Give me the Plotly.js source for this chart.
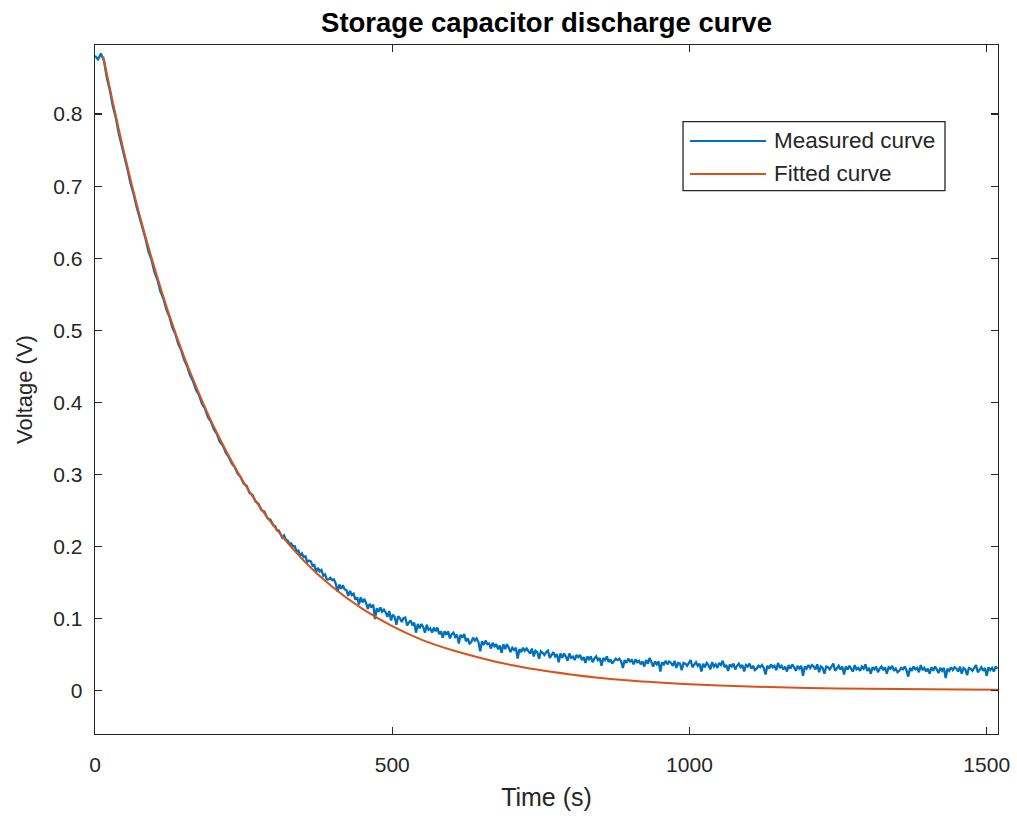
<!DOCTYPE html>
<html>
<head>
<meta charset="utf-8">
<script src="https://cdn.plot.ly/plotly-3.0.1.min.js"></script>
<style>html,body{margin:0;padding:0;background:#fff;}#chart{width:1017px;height:819px;}</style>
</head>
<body>
<div id="chart"></div>
<script>
// Measured record, part 1: t = 0 ... 300 s, one value every 5 s (V)
const EARLY_START_S = 0;
const EARLY_STEP_S = 5;
const measuredEarly = [
  0.881, 0.876, 0.884, 0.874, 0.850, 0.833, 0.811, 0.795, 0.773, 0.757,
  0.738, 0.722, 0.703, 0.689, 0.671, 0.657, 0.640, 0.627, 0.609, 0.598,
  0.581, 0.570, 0.554, 0.544, 0.529, 0.519, 0.504, 0.495, 0.481, 0.472,
  0.459, 0.450, 0.437, 0.429, 0.417, 0.410, 0.398, 0.391, 0.379, 0.373,
  0.362, 0.356, 0.345, 0.340, 0.330, 0.324, 0.315, 0.310, 0.301, 0.296,
  0.287, 0.284, 0.274, 0.271, 0.262, 0.259, 0.250, 0.248, 0.239, 0.237,
  0.229
];

// Measured record, part 2: t = 303 ... 1518 s, one value every 3 s (V)
const LATE_START_S = 303;
const LATE_STEP_S = 3;
const measuredLate = [
  0.228, 0.222, 0.222, 0.217, 0.212, 0.215, 0.209, 0.208, 0.203, 0.204,
  0.200, 0.200, 0.193, 0.194, 0.187, 0.190, 0.185, 0.186, 0.178, 0.180,
  0.179, 0.173, 0.174, 0.164, 0.170, 0.165, 0.167, 0.159, 0.161, 0.154,
  0.154, 0.156, 0.153, 0.154, 0.148, 0.137, 0.147, 0.141, 0.146, 0.140,
  0.139, 0.131, 0.138, 0.132, 0.134, 0.126, 0.129, 0.119, 0.129, 0.122,
  0.127, 0.121, 0.113, 0.120, 0.115, 0.119, 0.099, 0.114, 0.109, 0.115,
  0.109, 0.112, 0.108, 0.102, 0.110, 0.097, 0.105, 0.102, 0.091, 0.103,
  0.100, 0.095, 0.100, 0.101, 0.090, 0.094, 0.097, 0.090, 0.094, 0.080,
  0.092, 0.086, 0.092, 0.088, 0.080, 0.091, 0.084, 0.086, 0.080, 0.087,
  0.082, 0.087, 0.078, 0.082, 0.073, 0.082, 0.077, 0.082, 0.072, 0.078,
  0.080, 0.074, 0.077, 0.065, 0.077, 0.073, 0.078, 0.068, 0.072, 0.065,
  0.067, 0.073, 0.069, 0.072, 0.067, 0.054, 0.068, 0.063, 0.069, 0.064,
  0.065, 0.058, 0.066, 0.061, 0.064, 0.057, 0.062, 0.052, 0.064, 0.057,
  0.064, 0.059, 0.053, 0.059, 0.056, 0.059, 0.044, 0.057, 0.053, 0.059,
  0.055, 0.058, 0.055, 0.051, 0.058, 0.047, 0.055, 0.053, 0.044, 0.054,
  0.052, 0.049, 0.053, 0.055, 0.045, 0.050, 0.053, 0.047, 0.050, 0.039,
  0.051, 0.045, 0.051, 0.047, 0.041, 0.051, 0.045, 0.047, 0.042, 0.049,
  0.046, 0.049, 0.042, 0.046, 0.038, 0.047, 0.043, 0.047, 0.039, 0.044,
  0.047, 0.042, 0.045, 0.034, 0.045, 0.042, 0.047, 0.039, 0.043, 0.037,
  0.040, 0.044, 0.042, 0.044, 0.040, 0.031, 0.042, 0.038, 0.044, 0.040,
  0.042, 0.036, 0.043, 0.039, 0.041, 0.036, 0.040, 0.033, 0.042, 0.037,
  0.045, 0.039, 0.033, 0.040, 0.036, 0.040, 0.026, 0.039, 0.036, 0.041,
  0.036, 0.040, 0.038, 0.034, 0.041, 0.031, 0.038, 0.037, 0.028, 0.038,
  0.037, 0.034, 0.038, 0.042, 0.032, 0.036, 0.039, 0.034, 0.037, 0.026,
  0.037, 0.032, 0.038, 0.035, 0.029, 0.039, 0.033, 0.036, 0.031, 0.038,
  0.035, 0.041, 0.032, 0.035, 0.027, 0.036, 0.033, 0.037, 0.029, 0.034,
  0.037, 0.032, 0.035, 0.026, 0.035, 0.033, 0.037, 0.030, 0.034, 0.028,
  0.030, 0.034, 0.032, 0.035, 0.031, 0.022, 0.034, 0.030, 0.036, 0.032,
  0.034, 0.028, 0.038, 0.031, 0.034, 0.029, 0.033, 0.026, 0.035, 0.030,
  0.036, 0.032, 0.027, 0.034, 0.030, 0.034, 0.020, 0.033, 0.030, 0.035,
  0.031, 0.035, 0.033, 0.029, 0.036, 0.025, 0.033, 0.031, 0.023, 0.033,
  0.032, 0.029, 0.033, 0.037, 0.027, 0.031, 0.034, 0.029, 0.033, 0.022,
  0.033, 0.029, 0.034, 0.030, 0.026, 0.035, 0.029, 0.031, 0.027, 0.033,
  0.030, 0.036, 0.027, 0.031, 0.023, 0.032, 0.029, 0.033, 0.025, 0.030,
  0.033, 0.028, 0.032, 0.023, 0.032, 0.030, 0.034, 0.027, 0.030, 0.025,
  0.027, 0.031, 0.029, 0.033, 0.028, 0.019, 0.031, 0.027, 0.033, 0.029,
  0.031, 0.025, 0.035, 0.028, 0.031, 0.026, 0.030, 0.023, 0.032, 0.027,
  0.033, 0.029, 0.024, 0.031, 0.027, 0.031, 0.017, 0.030, 0.027, 0.032,
  0.028, 0.032, 0.030, 0.026, 0.033, 0.023, 0.031, 0.029, 0.021, 0.031,
  0.030, 0.027, 0.031, 0.035, 0.025, 0.029, 0.032, 0.027, 0.031, 0.020,
  0.032, 0.028, 0.031, 0.026, 0.033, 0.030
];

// Fitted exponential curve, read at these times (s) and voltages (V)
const fittedTime = [14, 25, 50, 75, 100, 125, 150, 175, 200, 250, 300, 350, 400, 450, 500,
                    550, 600, 700, 800, 900, 1000, 1100, 1200, 1300, 1400, 1519];
const fittedVoltage = [0.880, 0.836, 0.743, 0.660, 0.587, 0.521, 0.463, 0.412, 0.366, 0.289,
                       0.229, 0.181, 0.143, 0.113, 0.089, 0.070, 0.056, 0.035, 0.022, 0.0135,
                       0.0084, 0.0052, 0.0033, 0.0021, 0.0014, 0.0008];

// Axis ticks
const xTickValues = [0, 500, 1000, 1500];
const yTickValues = [0, 0.1, 0.2, 0.3, 0.4, 0.5, 0.6, 0.7, 0.8];
const yTickLabels = ['0', '0.1', '0.2', '0.3', '0.4', '0.5', '0.6', '0.7', '0.8'];

const seriesNames = ['Measured curve', 'Fitted curve'];
const seriesColors = ['#0072BD', '#D95319'];

const measuredTime = measuredEarly.map((_, i) => EARLY_START_S + i * EARLY_STEP_S)
  .concat(measuredLate.map((_, i) => LATE_START_S + i * LATE_STEP_S));
const measuredVoltage = measuredEarly.concat(measuredLate);

const FONT = 'Liberation Sans, Arial, Helvetica, sans-serif';
const AXIS_COLOR = '#262626';

const traces = [
  {
    x: measuredTime, y: measuredVoltage, name: seriesNames[0],
    type: 'scatter', mode: 'lines', showlegend: false,
    line: {color: seriesColors[0], width: 2.3}
  },
  {
    x: fittedTime, y: fittedVoltage, name: seriesNames[1],
    type: 'scatter', mode: 'lines', showlegend: false,
    line: {color: seriesColors[1], width: 2, shape: 'spline', smoothing: 0.8}
  }
];

// Legend box drawn in paper coordinates (MATLAB-style, long line samples)
const LEG = {x0: 0.6512, x1: 0.9413, y0: 0.7885, y1: 0.8887,
             lineX0: 0.6589, lineX1: 0.7431, textX: 0.7497, rows: [0.8607, 0.8128]};

const shapes = [
  {type: 'rect', xref: 'paper', yref: 'paper', x0: LEG.x0, x1: LEG.x1, y0: LEG.y0, y1: LEG.y1,
   line: {color: AXIS_COLOR, width: 1.3}, fillcolor: '#ffffff', layer: 'above'}
].concat(seriesNames.map((n, i) => ({
  type: 'line', xref: 'paper', yref: 'paper', x0: LEG.lineX0, x1: LEG.lineX1,
  y0: LEG.rows[i], y1: LEG.rows[i], line: {color: seriesColors[i], width: 1.8}, layer: 'above'
})));

const annotations = seriesNames.map((n, i) => ({
  text: n, xref: 'paper', yref: 'paper', x: LEG.textX, y: LEG.rows[i],
  xanchor: 'left', yanchor: 'middle', showarrow: false,
  font: {family: FONT, size: 22.5, color: AXIS_COLOR}
}));

const axisCommon = {
  showgrid: false, zeroline: false,
  showline: true, linecolor: AXIS_COLOR, linewidth: 1.3,
  mirror: 'ticks', ticks: 'inside', ticklen: 7, tickwidth: 1.3, tickcolor: AXIS_COLOR,
  tickfont: {family: FONT, size: 21, color: AXIS_COLOR}
};

const layout = {
  width: 1017, height: 819,
  margin: {l: 95, r: 19, t: 45, b: 85},
  paper_bgcolor: '#ffffff', plot_bgcolor: '#ffffff',
  font: {family: FONT, color: AXIS_COLOR},
  showlegend: false,
  title: {
    text: '<b>Storage capacitor discharge curve</b>',
    font: {family: FONT, size: 27.5, color: '#000000'},
    x: 0.5, xref: 'paper', xanchor: 'center',
    y: 1 - 22 / 819, yref: 'container', yanchor: 'middle'
  },
  xaxis: Object.assign({}, axisCommon, {
    range: [0, 1519],
    tickvals: xTickValues,
    ticklabelstandoff: 11,
    title: {text: 'Time (s)', font: {family: FONT, size: 25, color: AXIS_COLOR}, standoff: 14}
  }),
  yaxis: Object.assign({}, axisCommon, {
    range: [-0.0607, 0.896],
    tickvals: yTickValues,
    ticktext: yTickLabels,
    ticklabelstandoff: 7,
    title: {text: 'Voltage (V)', font: {family: FONT, size: 22, color: AXIS_COLOR}, standoff: 14}
  }),
  shapes: shapes,
  annotations: annotations
};

Plotly.newPlot('chart', traces, layout, {displayModeBar: false, staticPlot: true});
</script>
</body>
</html>
